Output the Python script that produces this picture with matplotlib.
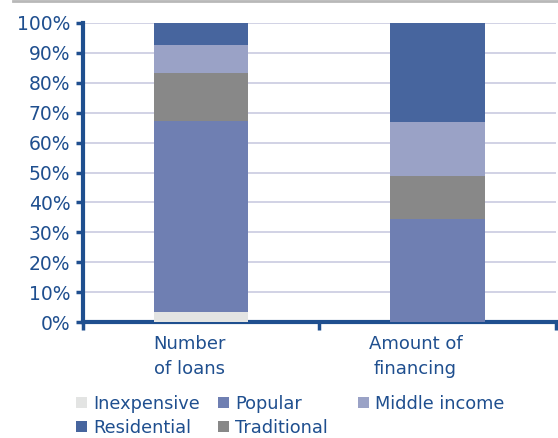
import matplotlib
matplotlib.use('Agg')
import matplotlib.pyplot as plt
import matplotlib.transforms as mtransforms
from matplotlib.lines import Line2D
from matplotlib.ticker import PercentFormatter

# datos
categorias = ["Number\nof loans", "Amount of\nfinancing"]
series = ["Inexpensive", "Popular", "Traditional", "Middle income", "Residential"]
inexpensive = [3.3, 0.0]
popular = [63.9, 34.4]
traditional = [16.2, 14.4]
middle_income = [9.2, 18.1]
residential = [7.4, 33.1]

valores = [inexpensive, popular, traditional, middle_income, residential]
colores = ["#E3E4E3", "#6F7FB2", "#888888", "#9AA2C6", "#47659E"]
azul = "#1F4F8F"

plt.rcParams['font.family'] = ['DejaVu Sans']

fig = plt.figure(figsize=(5.58, 4.38), dpi=100)
ax = fig.add_axes([0.1487, 0.2648, 0.8473, 0.6827])

x = list(range(len(categorias)))
base = [0.0] * len(categorias)
barras = {}
for nombre, vals, col in zip(series, valores, colores):
    b = ax.bar(x, vals, width=0.4, bottom=base, color=col, zorder=3, label=nombre)
    barras[nombre] = b
    base = [bb + v for bb, v in zip(base, vals)]

ax.set_xlim(-0.5, 1.5)
ax.set_ylim(0, 100)
ax.set_yticks(range(0, 101, 10))
ax.yaxis.set_major_formatter(PercentFormatter(decimals=0))
ax.grid(axis='y', color='#C9CBE0', linewidth=1.2, zorder=0)

for s in ['top', 'right']:
    ax.spines[s].set_visible(False)
for s in ['left', 'bottom']:
    ax.spines[s].set_color(azul)
    ax.spines[s].set_linewidth(3)

ax.tick_params(axis='y', colors=azul, labelcolor=azul, labelsize=13.5, length=5, width=2.5, pad=4)
ax.set_xticks([-0.5, 0.5, 1.5])
ax.set_xticklabels([])
ax.tick_params(axis='x', which='major', colors=azul, length=6, width=2.5)
ax.set_xticks(x, minor=True)
ax.set_xticklabels(categorias, minor=True, color=azul, fontsize=13, linespacing=1.55)
ax.tick_params(axis='x', which='minor', length=0, pad=9)
desplaz = [-12, -22]
for lbl, dx in zip(ax.get_xticklabels(minor=True), desplaz):
    lbl.set_transform(lbl.get_transform() + mtransforms.ScaledTranslation(dx / 100, 0, fig.dpi_scale_trans))

# linea gris superior
fig.add_artist(Line2D([13 / 558, 1], [0.997, 0.997], color='#B8B8B8', linewidth=2))

# leyenda: tres columnas de igual ancho
columnas = [["Inexpensive", "Residential"], ["Popular", "Traditional"], ["Middle income"]]
x_col = [76, 218, 358]
for nombres, xc in zip(columnas, x_col):
    leg = fig.legend([barras[n] for n in nombres], nombres, loc='upper left',
                     bbox_to_anchor=(xc / 558, 1 - 395 / 438), frameon=False, fontsize=12.8,
                     handlelength=0.6, handleheight=0.6, handletextpad=0.35,
                     labelspacing=0.33, borderaxespad=0, borderpad=0)
    for t in leg.get_texts():
        t.set_color(azul)

fig.savefig('out.png', dpi=100)
